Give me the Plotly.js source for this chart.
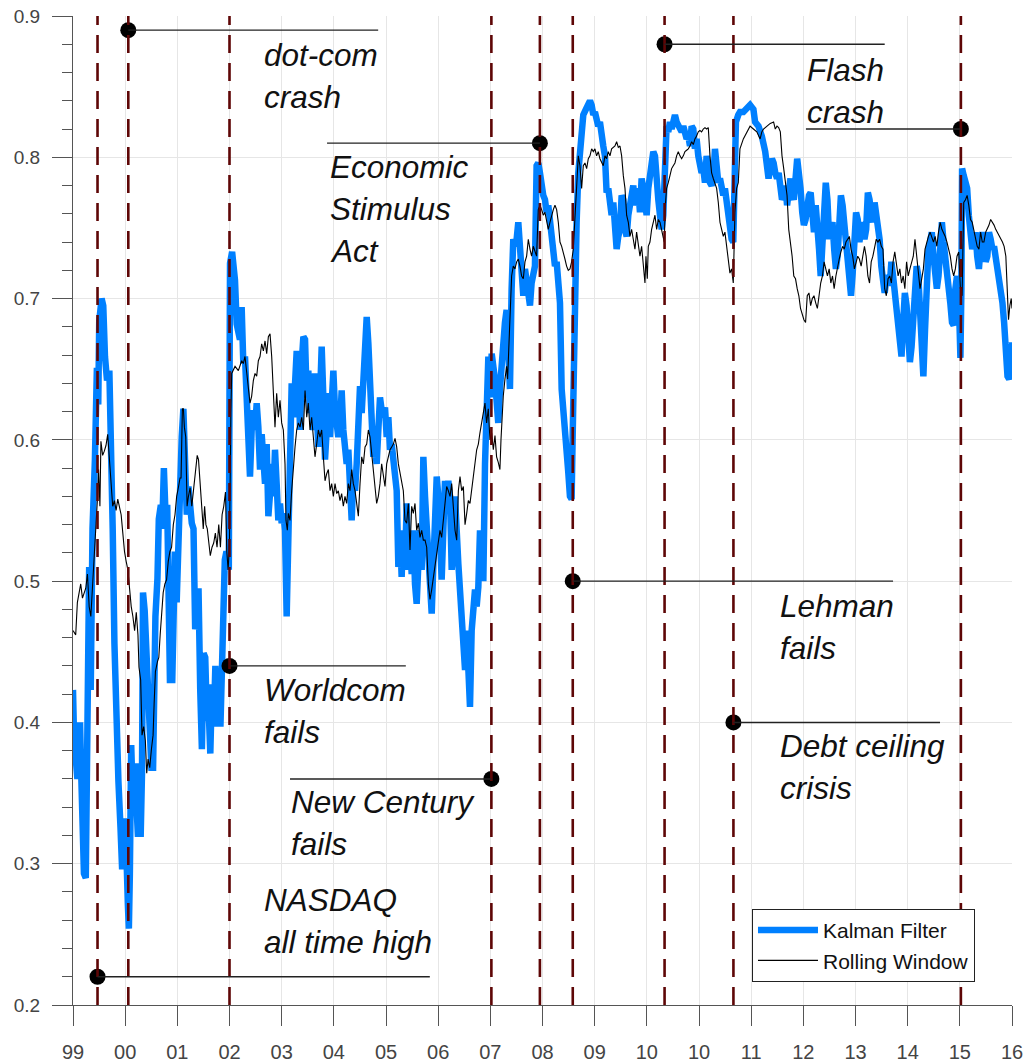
<!DOCTYPE html>
<html>
<head>
<meta charset="utf-8">
<script src="https://cdn.plot.ly/plotly-3.0.1.min.js"></script>
<style>html,body{margin:0;padding:0;background:#fff;}#chart{width:1028px;height:1064px;}</style>
</head>
<body>
<div id="chart"></div>
<script>
// x positions are in tick units (0 = "99" ... 18 = "16")
const tickLabels = ['99','00','01','02','03','04','05','06','07','08','09','10','10','11','12','13','14','15','16'];

const kalmanT = [
0.00,0.02,0.084,0.135,0.16,0.21,0.245,0.277,0.31,0.34,0.374,0.42,0.458,0.484,0.503,0.548,0.58,0.613,0.652,0.697,
0.729,0.761,0.794,0.826,0.871,0.91,0.942,0.987,1.019,1.052,1.071,1.09,1.116,1.148,1.18,1.213,1.245,1.265,1.297,1.323,
1.342,1.374,1.406,1.439,1.471,1.503,1.535,1.555,1.58,1.619,1.645,1.684,1.71,1.742,1.774,1.806,1.826,1.858,1.903,1.929,
1.955,1.987,2.019,2.052,2.084,2.116,2.148,2.181,2.213,2.245,2.277,2.31,2.342,2.374,2.406,2.439,2.471,2.503,2.535,2.568,
2.60,2.632,2.665,2.697,2.729,2.761,2.794,2.826,2.858,2.877,2.91,2.942,2.987,
3.01,3.05,3.105,3.138,3.2,3.233,3.265,3.297,3.329,3.361,3.393,3.425,3.457,3.489,3.521,3.553,3.585,3.617,3.649,3.681,
3.713,3.745,3.777,3.809,3.841,3.872,3.904,3.936,3.968,4.0,4.032,4.064,4.096,4.128,4.16,4.192,4.224,4.256,4.288,4.32,
4.352,4.384,4.416,4.448,4.48,4.511,4.543,4.575,4.607,4.639,4.671,4.703,4.735,4.767,4.799,4.831,4.863,4.895,4.927,4.959,
4.991,5.023,5.055,5.086,5.118,5.15,5.182,5.214,5.246,5.278,5.31,5.342,5.374,5.406,5.438,5.47,5.502,5.534,5.566,5.598,
5.63,5.662,5.694,5.725,5.757,5.789,5.821,5.853,5.885,5.917,5.949,5.981,6.013,6.045,6.077,6.109,6.141,6.173,6.205,6.237,
6.269,6.3,6.332,6.364,6.396,6.428,6.46,6.492,6.524,6.556,6.588,6.62,6.652,6.684,6.716,6.748,6.78,6.812,6.844,6.876,
6.908,6.94,6.972,7.003,7.035,7.067,7.099,7.131,7.163,7.195,7.227,7.259,7.291,7.323,7.387,7.419,7.451,7.483,7.515,7.547,
7.578,7.61,7.642,7.674,7.706,7.738,7.77,7.802,7.834,7.866,7.898,7.93,7.962,7.994,8.026,
8.089,8.12,8.152,8.184,8.216,8.248,8.28,8.312,8.344,8.376,8.408,8.44,8.472,8.504,8.536,8.568,8.6,8.632,8.664,8.696,
8.728,8.76,8.791,8.823,8.855,8.887,8.919,8.951,8.983,9.015,9.047,9.079,9.111,9.143,9.175,9.207,9.239,9.271,9.303,9.335,
9.367,9.399,9.43,9.462,9.494,9.526,9.558,9.577,9.603,9.622,9.654,9.686,9.718,9.75,9.782,9.833,9.878,9.91,9.942,9.974,
10.005,10.037,10.069,10.101,10.133,10.165,10.197,10.229,10.261,10.293,10.325,10.357,10.389,10.421,10.453,10.485,10.517,10.549,10.581,10.613,
10.645,10.677,10.708,10.74,10.772,10.804,10.836,10.868,10.9,10.932,10.964,10.996,11.028,11.06,11.092,11.124,11.156,11.188,11.22,11.252,
11.284,11.315,11.347,11.379,11.411,11.443,11.475,11.507,11.539,11.571,11.603,11.635,11.667,11.699,11.731,11.763,11.795,11.827,11.859,11.891,
11.922,11.954,11.986,12.018,12.05,12.082,12.114,12.146,12.178,12.21,12.242,12.274,12.306,12.338,12.37,12.402,12.434,12.466,12.497,12.529,
12.561,12.593,12.625,12.657,12.689,12.708,12.753,12.785,
12.85,12.914,12.979,13.043,13.075,13.14,13.204,13.269,13.301,13.333,13.398,13.43,13.462,13.495,13.527,13.559,13.591,13.624,13.656,13.688,
13.72,13.753,13.785,13.817,13.882,13.914,13.946,13.979,14.011,14.043,14.075,14.108,14.14,14.172,14.204,14.237,14.269,14.301,14.333,14.366,
14.398,14.43,14.462,14.495,14.527,14.559,14.591,14.624,14.656,14.688,14.72,14.753,14.785,14.817,14.85,14.882,14.914,14.946,14.979,15.011,
15.043,15.075,15.108,15.14,15.172,15.204,15.237,15.269,15.301,15.333,15.366,15.398,15.43,15.462,15.495,15.527,15.559,15.591,15.624,15.656,
15.688,15.72,15.753,15.785,15.817,15.85,15.882,15.914,15.946,15.979,16.011,16.043,16.075,16.108,16.14,16.172,16.204,16.237,16.269,16.301,
16.333,16.366,16.398,16.43,16.462,16.495,16.527,16.559,16.591,16.624,16.656,16.688,16.72,16.753,16.785,16.817,16.85,16.882,16.914,16.946,
16.979,17.011,17.03,17.043,17.075,17.108,17.14,17.172,17.204,17.237,17.269,17.301,17.333,17.366,17.398,17.43,17.462,17.495,17.527,17.559,
17.591,17.624,17.656,17.688,17.72,17.753,17.785,17.817,17.849,17.882,17.914,17.946,17.979,18.0
];
const kalmanV = [
0.423,0.390,0.360,0.400,0.360,0.293,0.290,0.403,0.510,0.423,0.537,0.586,0.651,0.625,0.684,0.700,0.695,0.659,0.642,0.649,
0.602,0.537,0.456,0.391,0.358,0.326,0.296,0.332,0.313,0.271,0.254,0.293,0.384,0.342,0.371,0.345,0.319,0.371,0.319,0.365,
0.492,0.479,0.456,0.423,0.404,0.368,0.368,0.472,0.475,0.502,0.544,0.554,0.537,0.580,0.547,0.554,0.489,0.430,0.430,0.482,
0.521,0.485,0.534,0.567,0.602,0.622,0.554,0.547,0.567,0.547,0.541,0.537,0.466,0.472,0.495,0.423,0.381,0.449,0.446,0.401,
0.410,0.378,0.427,0.397,0.440,0.397,0.423,0.397,0.449,0.502,0.515,0.521,0.508,
0.725,0.733,0.713,0.682,0.671,0.694,0.654,0.659,0.630,0.583,0.574,0.607,0.621,0.607,0.626,0.609,0.579,0.604,0.583,0.569,
0.597,0.546,0.562,0.583,0.560,0.593,0.569,0.543,0.555,0.541,0.548,0.536,0.475,0.524,0.583,0.640,0.616,0.635,0.663,0.652,
0.607,0.654,0.673,0.671,0.630,0.649,0.619,0.630,0.607,0.647,0.616,0.595,0.630,0.666,0.630,0.586,0.607,0.633,0.602,0.623,
0.649,0.621,0.607,0.602,0.609,0.635,0.607,0.595,0.583,0.593,0.569,0.543,0.574,0.564,0.583,0.602,0.638,0.619,0.649,0.678,
0.687,0.668,0.642,0.614,0.588,0.595,0.583,0.607,0.630,0.621,0.616,0.623,0.602,0.616,0.593,0.597,0.583,0.574,0.564,0.510,
0.536,0.503,0.536,0.508,0.555,0.512,0.531,0.505,0.536,0.498,0.484,0.512,0.536,0.508,0.588,0.560,0.536,0.503,0.489,0.477,
0.512,0.536,0.574,0.560,0.512,0.501,0.536,0.571,0.560,0.571,0.560,0.508,0.524,0.560,0.512,0.494,0.465,0.442,0.437,0.465,
0.430,0.411,0.465,0.489,0.494,0.482,0.496,0.536,0.512,0.500,0.583,0.654,0.659,0.630,0.661,
0.643,0.622,0.612,0.636,0.655,0.659,0.683,0.692,0.655,0.636,0.707,0.742,0.737,0.742,0.754,0.730,0.707,0.702,0.721,0.711,
0.707,0.695,0.711,0.716,0.723,0.794,0.796,0.789,0.778,0.773,0.770,0.761,0.766,0.754,0.744,0.730,0.723,0.726,0.707,0.697,
0.636,0.617,0.612,0.581,0.577,0.560,0.558,0.600,0.683,0.707,0.754,0.789,0.806,0.820,0.830,0.834,0.839,0.840,0.837,0.830,
0.832,0.827,0.822,0.825,0.813,0.808,0.801,0.775,0.778,0.766,0.759,0.768,0.749,0.735,0.744,0.749,0.773,0.770,0.749,0.744,
0.759,0.766,0.778,0.780,0.766,0.775,0.778,0.761,0.785,0.778,0.763,0.759,0.778,0.787,0.799,0.804,0.801,0.775,0.770,0.759,
0.749,0.759,0.813,0.822,0.818,0.825,0.820,0.827,0.830,0.825,0.822,0.820,0.818,0.822,0.815,0.813,0.815,0.808,0.822,0.820,
0.806,0.813,0.801,0.794,0.789,0.792,0.782,0.801,0.785,0.782,0.780,0.785,0.806,0.796,0.782,0.785,0.778,0.773,0.778,0.768,
0.759,0.749,0.742,0.740,0.778,0.825,0.830,0.832,
0.832,0.835,0.837,0.834,0.825,0.822,0.815,0.804,0.796,0.785,0.799,0.796,0.789,0.785,0.789,0.778,0.770,0.773,0.780,0.766,
0.778,0.785,0.773,0.770,0.799,0.780,0.778,0.761,0.752,0.756,0.766,0.773,0.775,0.754,0.747,0.766,0.754,0.735,0.716,0.742,
0.770,0.782,0.770,0.742,0.749,0.754,0.735,0.721,0.730,0.749,0.773,0.766,0.754,0.737,0.721,0.716,0.702,0.718,0.740,0.761,
0.756,0.740,0.749,0.754,0.742,0.749,0.775,0.770,0.759,0.754,0.768,0.759,0.749,0.742,0.723,0.716,0.704,0.714,0.716,0.709,
0.726,0.716,0.702,0.688,0.674,0.662,0.659,0.683,0.704,0.695,0.678,0.655,0.666,0.683,0.707,0.723,0.716,0.683,0.648,0.645,
0.678,0.716,0.735,0.740,0.747,0.730,0.711,0.707,0.716,0.747,0.754,0.740,0.726,0.716,0.707,0.697,0.683,0.681,0.707,0.716,
0.702,0.658,0.707,0.792,0.787,0.782,0.778,0.759,0.744,0.735,0.740,0.747,0.730,0.721,0.737,0.747,0.740,0.726,0.730,0.747,
0.742,0.735,0.737,0.730,0.721,0.716,0.707,0.697,0.683,0.659,0.645,0.643,0.650,0.669
];

const rollingT = [
0.00,0.052,0.084,0.116,0.148,0.181,0.213,0.245,0.277,0.31,0.342,0.374,0.406,0.439,0.471,0.49,0.516,0.535,0.568,0.6,
0.632,0.665,0.697,0.729,0.761,0.794,0.826,0.858,0.89,0.923,0.955,0.987,1.019,1.052,1.084,1.116,1.148,1.181,1.213,1.245,
1.265,1.297,1.323,1.355,1.387,1.413,1.439,1.471,1.503,1.535,1.555,1.58,1.619,1.645,1.671,1.697,1.729,1.761,1.794,1.826,
1.858,1.89,1.923,1.955,1.987,2.019,2.052,2.071,2.097,2.116,2.135,2.161,2.187,2.213,2.245,2.277,2.31,2.329,2.355,2.381,
2.406,2.439,2.471,2.497,2.523,2.548,2.574,2.6,2.632,2.665,2.697,2.729,2.761,2.794,2.826,2.858,2.89,2.923,2.948,2.974,
3.0,3.026,
3.042,3.106,3.17,3.233,3.265,3.297,3.329,3.361,3.393,3.425,3.457,3.489,3.521,3.553,3.585,3.617,3.649,3.681,3.713,3.745,
3.777,3.809,3.841,3.872,3.904,3.936,3.968,4.0,4.032,4.064,4.083,4.109,4.128,4.16,4.192,4.224,4.256,4.288,4.32,4.352,
4.384,4.416,4.448,4.48,4.511,4.543,4.575,4.607,4.639,4.671,4.703,4.735,4.767,4.799,4.831,4.863,4.895,4.927,4.959,4.991,
5.023,5.055,5.086,5.118,5.15,5.182,5.214,5.246,5.278,5.31,5.342,5.374,5.406,5.438,5.47,5.502,5.534,5.566,5.598,5.63,
5.662,5.694,5.725,5.757,5.789,5.821,5.853,5.885,5.917,5.949,5.981,6.013,6.045,6.077,6.109,6.141,6.173,6.205,6.237,6.269,
6.3,6.332,6.364,6.396,6.428,6.46,6.492,6.524,6.556,6.588,6.62,6.652,6.684,6.716,6.748,6.78,6.812,6.844,6.876,6.908,
6.94,6.972,7.003,7.035,7.067,7.099,7.131,7.163,7.195,7.227,7.259,7.291,7.323,7.355,7.387,7.419,7.451,7.483,7.515,7.547,
7.578,7.61,7.642,7.674,7.706,7.738,7.77,
7.801,7.897,7.929,7.961,7.993,8.025,8.057,8.089,8.12,8.152,8.184,8.204,8.229,8.248,8.28,8.312,8.331,8.357,8.376,8.408,
8.44,8.472,8.504,8.536,8.568,8.6,8.632,8.664,8.696,8.728,8.76,8.791,8.823,8.855,8.887,8.919,8.951,8.983,9.015,9.047,
9.079,9.111,9.143,9.175,9.207,9.239,9.271,9.303,9.335,9.367,9.399,9.43,9.462,9.494,9.526,9.558,9.59,9.622,9.654,9.686,
9.718,9.75,9.782,9.814,9.846,9.878,9.91,9.942,9.974,10.005,10.037,10.069,10.101,10.133,10.165,10.197,10.229,10.261,10.293,10.325,
10.357,10.389,10.421,10.453,10.485,10.517,10.549,10.581,10.613,10.645,10.677,10.708,10.74,10.772,10.804,10.836,10.868,10.9,10.932,10.964,
10.983,11.009,11.028,11.06,11.092,11.124,11.156,11.188,11.22,11.252,11.284,11.315,11.334,11.354,11.379,11.411,11.443,11.475,11.507,11.539,
11.571,11.603,11.635,11.667,11.699,11.731,11.763,11.795,11.827,11.859,11.891,11.922,11.954,11.986,12.018,12.05,12.082,12.114,12.146,12.178,
12.21,12.242,12.274,12.306,12.338,12.37,12.402,12.434,12.466,12.497,12.529,12.561,12.593,12.625,12.657,12.689,12.721,12.753,
12.785,12.85,12.914,12.979,13.043,13.108,13.172,13.204,13.237,13.301,13.366,13.43,13.462,13.495,13.527,13.559,13.591,13.624,13.656,13.688,
13.72,13.753,13.785,13.817,13.85,13.882,13.914,13.946,13.979,14.011,14.043,14.075,14.108,14.14,14.172,14.204,14.237,14.269,14.301,14.333,
14.366,14.398,14.43,14.462,14.495,14.527,14.559,14.591,14.624,14.656,14.688,14.72,14.753,14.785,14.817,14.85,14.882,14.914,14.946,14.979,
15.011,15.043,15.075,15.108,15.14,15.172,15.204,15.237,15.269,15.301,15.333,15.366,15.398,15.43,15.462,15.495,15.527,15.559,15.591,15.624,
15.656,15.688,15.72,15.753,15.785,15.817,15.85,15.882,15.914,15.946,15.979,16.011,16.043,16.075,16.108,16.14,16.172,16.204,16.237,16.269,
16.301,16.333,16.366,16.398,16.43,16.462,16.495,16.527,16.559,16.591,16.624,16.656,16.688,16.72,16.753,16.785,16.817,16.85,16.882,16.914,
16.946,16.979,17.011,17.043,17.075,17.108,17.14,17.172,17.204,17.237,17.269,17.301,17.333,17.366,17.398,17.43,17.462,17.495,17.527,17.559,
17.591,17.624,17.656,17.688,17.72,17.753,17.785,17.817,17.849,17.882,17.914,17.933,17.959,17.985,18.0
];
const rollingV = [
0.465,0.462,0.485,0.492,0.498,0.488,0.492,0.495,0.505,0.482,0.475,0.495,0.521,0.537,0.560,0.579,0.553,0.599,0.589,0.592,
0.596,0.604,0.586,0.566,0.553,0.557,0.550,0.558,0.553,0.547,0.534,0.521,0.514,0.508,0.495,0.482,0.475,0.465,0.478,0.462,
0.439,0.430,0.391,0.397,0.387,0.364,0.374,0.368,0.381,0.391,0.413,0.436,0.443,0.446,0.462,0.479,0.492,0.498,0.501,0.514,
0.521,0.524,0.540,0.547,0.560,0.566,0.573,0.573,0.622,0.622,0.609,0.602,0.553,0.560,0.566,0.553,0.566,0.573,0.583,0.589,
0.586,0.566,0.553,0.537,0.553,0.540,0.537,0.527,0.518,0.524,0.527,0.534,0.524,0.540,0.524,0.547,0.553,0.563,0.521,0.508,
0.527,0.619,
0.647,0.652,0.649,0.656,0.654,0.659,0.649,0.638,0.626,0.631,0.642,0.647,0.645,0.656,0.659,0.668,0.663,0.670,0.661,0.673,
0.675,0.659,0.630,0.609,0.633,0.616,0.628,0.612,0.607,0.583,0.543,0.536,0.548,0.543,0.564,0.583,0.595,0.607,0.612,0.609,
0.616,0.607,0.635,0.616,0.626,0.607,0.616,0.602,0.588,0.597,0.607,0.602,0.607,0.588,0.571,0.576,0.579,0.564,0.569,0.560,
0.569,0.562,0.564,0.557,0.562,0.553,0.560,0.555,0.569,0.564,0.579,0.569,0.564,0.555,0.546,0.569,0.588,0.583,0.595,0.597,
0.607,0.602,0.590,0.579,0.564,0.555,0.560,0.569,0.583,0.576,0.567,0.583,0.588,0.593,0.595,0.597,0.601,0.595,0.583,0.576,
0.569,0.564,0.543,0.541,0.555,0.522,0.553,0.548,0.555,0.536,0.541,0.531,0.536,0.529,0.529,0.524,0.498,0.487,0.494,0.503,
0.512,0.522,0.527,0.536,0.531,0.543,0.553,0.567,0.564,0.560,0.569,0.555,0.536,0.529,0.564,0.574,0.564,0.567,0.540,0.548,
0.557,0.555,0.564,0.576,0.583,0.593,0.597,
0.605,0.626,0.612,0.622,0.600,0.605,0.593,0.603,0.588,0.584,0.579,0.600,0.624,0.631,0.643,0.652,0.643,0.671,0.695,0.716,
0.723,0.721,0.726,0.728,0.723,0.716,0.714,0.726,0.730,0.742,0.735,0.730,0.737,0.733,0.730,0.763,0.766,0.763,0.759,0.761,
0.756,0.749,0.754,0.759,0.763,0.766,0.763,0.754,0.740,0.737,0.733,0.728,0.723,0.720,0.721,0.726,0.735,0.759,0.778,0.801,
0.794,0.778,0.794,0.796,0.792,0.799,0.801,0.806,0.804,0.806,0.801,0.804,0.799,0.796,0.794,0.801,0.799,0.804,0.801,0.806,
0.807,0.808,0.811,0.807,0.808,0.801,0.787,0.778,0.759,0.754,0.744,0.749,0.742,0.735,0.747,0.740,0.730,0.737,0.723,0.711,
0.730,0.714,0.737,0.740,0.749,0.754,0.759,0.749,0.756,0.754,0.749,0.744,0.740,0.766,0.778,0.782,0.787,0.792,0.794,0.796,
0.801,0.804,0.801,0.799,0.801,0.804,0.805,0.806,0.808,0.811,0.809,0.813,0.815,0.818,0.819,0.818,0.820,0.821,0.820,0.821,
0.801,0.789,0.785,0.782,0.778,0.768,0.754,0.749,0.744,0.747,0.737,0.726,0.718,0.721,0.711,0.761,0.778,0.782,
0.806,0.813,0.818,0.822,0.820,0.818,0.813,0.818,0.820,0.822,0.824,0.825,0.820,0.822,0.821,0.818,0.801,0.792,0.782,0.773,
0.749,0.740,0.730,0.716,0.714,0.707,0.702,0.693,0.688,0.685,0.683,0.702,0.704,0.695,0.700,0.702,0.697,0.693,0.702,0.711,
0.716,0.726,0.721,0.716,0.721,0.711,0.716,0.707,0.716,0.723,0.728,0.733,0.737,0.735,0.740,0.742,0.744,0.735,0.730,0.721,
0.726,0.730,0.728,0.723,0.730,0.737,0.730,0.716,0.711,0.726,0.730,0.735,0.742,0.740,0.742,0.737,0.735,0.707,0.702,0.714,
0.716,0.711,0.726,0.733,0.726,0.716,0.721,0.711,0.716,0.707,0.726,0.716,0.721,0.726,0.730,0.742,0.730,0.716,0.707,0.714,
0.721,0.735,0.740,0.744,0.747,0.744,0.740,0.744,0.737,0.747,0.754,0.749,0.747,0.744,0.740,0.735,0.730,0.721,0.716,0.721,
0.730,0.733,0.707,0.702,0.768,0.770,0.773,0.766,0.756,0.754,0.749,0.744,0.737,0.735,0.747,0.740,0.740,0.747,0.749,0.752,
0.756,0.754,0.752,0.749,0.747,0.744,0.742,0.740,0.737,0.730,0.702,0.685,0.695,0.700,0.693
];

// event markers (dashed vertical lines)
const eventT = [0.47, 1.06, 3.0, 8.02, 8.95, 9.58, 11.34, 12.66, 17.02];
// annotation dots: position of each event label's marker
const dotT = [0.47, 1.06, 3.0, 8.02, 8.95, 9.58, 11.34, 12.66, 17.02];
const dotV = [0.22, 0.89, 0.44, 0.36, 0.81, 0.50, 0.88, 0.40, 0.82];
const leaderFrom = [0.47, 1.06, 3.0, 4.16, 4.87, 9.58, 11.34, 12.66, 14.05];
const leaderTo   = [6.84, 5.85, 6.38, 8.02, 8.95, 15.72, 15.56, 16.62, 17.02];
const labelLines = [
  ['NASDAQ','all time high'],
  ['dot-com','crash'],
  ['Worldcom','fails'],
  ['New Century','fails'],
  ['Economic','Stimulus','Act'],
  ['Lehman','fails'],
  ['Flash','crash'],
  ['Debt ceiling','crisis'],
  []
];
const labelT = [3.62, 3.62, 3.62, 4.14, 4.89, 13.51, 14.03, 13.51, 0];
const labelTopV = [0.2744, 0.8724, 0.4230, 0.3437, 0.7931, 0.4824, 0.8618, 0.3834, 0];
const lineStep = 0.0297;

const traces = [
  {x: kalmanT, y: kalmanV, type: 'scatter', mode: 'lines', name: 'Kalman Filter',
   line: {color: '#0080ff', width: 6.5}, legendgroup: 'a'},
  {x: rollingT, y: rollingV, type: 'scatter', mode: 'lines', name: 'Rolling Window',
   line: {color: '#000000', width: 1.1}, legendgroup: 'b'},
];

const shapes = [];
eventT.forEach(t => shapes.push({type: 'line', xref: 'x', yref: 'y', x0: t, x1: t, y0: 0.2, y1: 0.9,
  line: {color: '#5e0606', width: 2.6, dash: '18px,10px'}, layer: 'above'}));
dotT.forEach((t, i) => shapes.push({type: 'line', xref: 'x', yref: 'y', x0: leaderFrom[i], x1: leaderTo[i],
  y0: dotV[i], y1: dotV[i], line: {color: '#222', width: 1.4}, layer: 'above'}));

const annotations = [];
labelLines.forEach((lines, i) => {
  lines.forEach((txt, j) => annotations.push({
    x: labelT[i], y: labelTopV[i] - j * lineStep, xref: 'x', yref: 'y', text: txt, showarrow: false,
    xanchor: 'left', yanchor: 'middle',
    font: {family: 'Liberation Sans, Arial, sans-serif', size: 31.5, color: '#111', style: 'italic'}
  }));
});

Plotly.newPlot('chart', traces, {
  width: 1028, height: 1064,
  margin: {l: 73, r: 16, t: 16, b: 59},
  paper_bgcolor: '#fff', plot_bgcolor: '#fff',
  font: {family: 'Liberation Sans, Arial, sans-serif', color: '#444'},
  showlegend: true,
  legend: {x: 0.7231, y: 0.0971, xanchor: 'left', yanchor: 'top', bgcolor: '#fff',
    bordercolor: '#222', borderwidth: 1, font: {size: 21, color: '#111'},
    itemwidth: 60, traceorder: 'grouped', tracegroupgap: 0},
  xaxis: {range: [0, 18], tickmode: 'array', tickvals: tickLabels.map((_, i) => i), ticktext: tickLabels,
    ticks: 'outside', ticklen: 20, tickcolor: '#555', tickwidth: 1,
    showgrid: true, gridcolor: '#e6e6e6', gridwidth: 1, zeroline: false,
    showline: true, linecolor: '#555', linewidth: 1,
    tickfont: {size: 20, color: '#444'}, ticklabelstandoff: 9, fixedrange: true},
  yaxis: {range: [0.2, 0.9], tickmode: 'linear', tick0: 0.2, dtick: 0.1, tickformat: '.1f',
    ticks: 'outside', ticklen: 20, tickcolor: '#555', tickwidth: 1,
    minor: {dtick: 0.02, tick0: 0.2, ticks: 'outside', ticklen: 10, tickcolor: '#555', showgrid: false},
    showgrid: true, gridcolor: '#e6e6e6', gridwidth: 1, zeroline: false,
    showline: true, linecolor: '#555', linewidth: 1,
    tickfont: {size: 19, color: '#444'}, ticklabelstandoff: 8, fixedrange: true},
  shapes: shapes,
  annotations: annotations
}, {displayModeBar: false, staticPlot: true}).then(() => {
  Plotly.addTraces('chart', [{x: dotT, y: dotV, type: 'scatter', mode: 'markers', showlegend: false,
    marker: {color: '#000', size: 16}, cliponaxis: false}]);
});
</script>
</body>
</html>
